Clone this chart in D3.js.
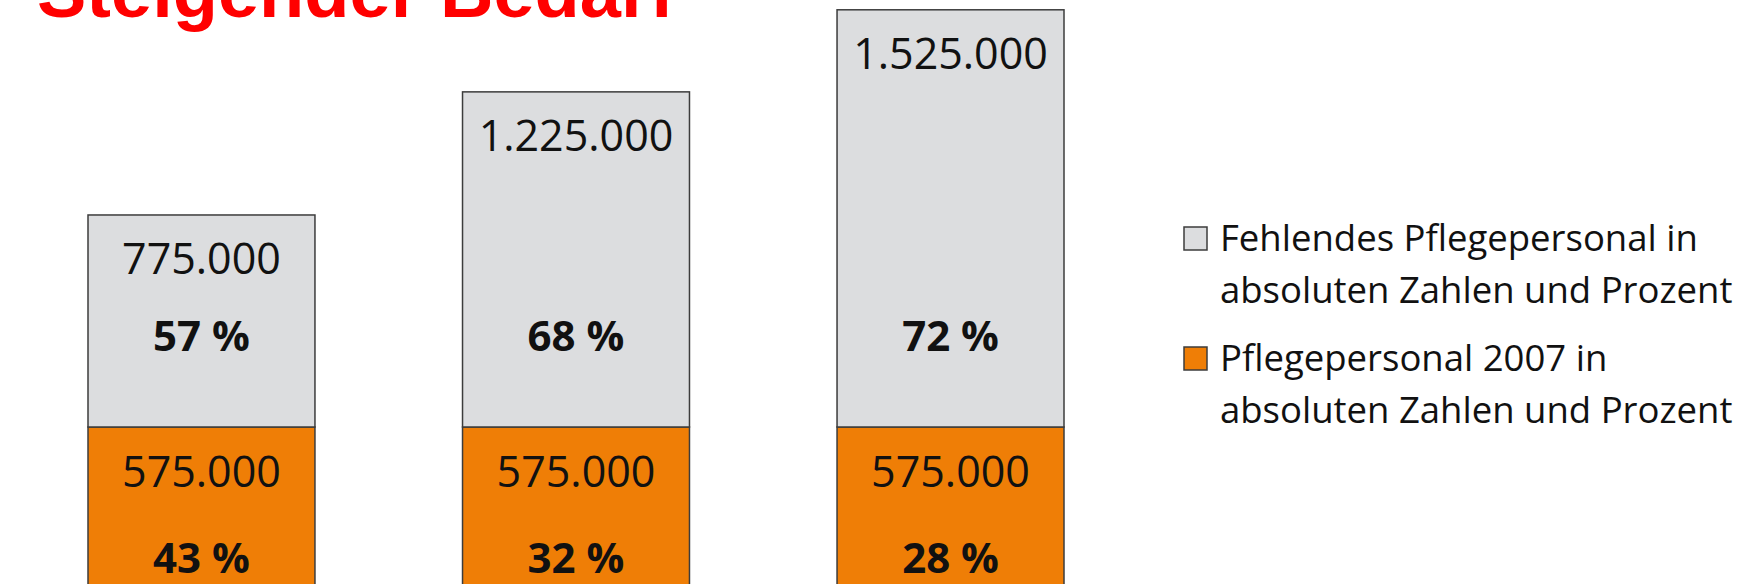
<!DOCTYPE html>
<html>
<head>
<meta charset="utf-8">
<script src="https://cdn.jsdelivr.net/npm/d3@7"></script>
<style>
  html, body { margin: 0; padding: 0; background: #ffffff; overflow: hidden; }
  svg { display: block; }
</style>
</head>
<body>
<svg id="chart" width="1748" height="584"></svg>
<script>
// ---- data ----
const categories = ["Bedarf A", "Bedarf B", "Bedarf C"];
const staff2007 = [575000, 575000, 575000];          // Pflegepersonal 2007
const missingStaff = [775000, 1225000, 1525000];     // Fehlendes Pflegepersonal
const staffPct = [43, 32, 28];
const missingPct = [57, 68, 72];
const seriesNames = [
  ["Fehlendes Pflegepersonal in", "absoluten Zahlen und Prozent"],
  ["Pflegepersonal 2007 in", "absoluten Zahlen und Prozent"]
];
const titleText = "Steigender Bedarf";

// ---- setup ----
const W = 1748, H = 584;
const svg = d3.select("#chart");
const de = d3.formatLocale({ decimal: ",", thousands: ".", grouping: [3], currency: ["", " €"] });
const fmt = de.format(",d");

const colGray = "#dcdddf";
const colOrange = "#ef7e06";
const colBorder = "#3c3c3c";
const labelFont = "'Open Sans', sans-serif";

const x = d3.scaleBand().domain(categories).range([88, 1064]).paddingInner(0.394).paddingOuter(0);
const y = d3.scaleLinear().domain([0, 2100000]).range([584.3, 9.8]);

const rows = categories.map((c, i) => ({
  cat: c, staff: staff2007[i], missing: missingStaff[i], sp: staffPct[i], mp: missingPct[i]
}));

// ---- bars ----
const g = svg.append("g");
g.selectAll("rect.staff").data(rows).join("rect")
  .attr("class", "staff")
  .attr("x", d => x(d.cat))
  .attr("width", x.bandwidth())
  .attr("y", d => y(d.staff))
  .attr("height", d => y(0) - y(d.staff) + 4)
  .attr("fill", colOrange)
  .attr("stroke", colBorder)
  .attr("stroke-width", 1.5);
g.selectAll("rect.missing").data(rows).join("rect")
  .attr("class", "missing")
  .attr("x", d => x(d.cat))
  .attr("width", x.bandwidth())
  .attr("y", d => y(d.staff + d.missing))
  .attr("height", d => y(d.staff) - y(d.staff + d.missing))
  .attr("fill", colGray)
  .attr("stroke", colBorder)
  .attr("stroke-width", 1.5);

// ---- labels ----
const cx = d => x(d.cat) + x.bandwidth() / 2;
g.selectAll("text.mval").data(rows).join("text")
  .attr("x", cx).attr("y", d => y(d.staff + d.missing) + 59)
  .attr("text-anchor", "middle").attr("font-family", labelFont)
  .attr("font-size", 43).attr("fill", "#111")
  .text(d => fmt(d.missing));
g.selectAll("text.mpct").data(rows).join("text")
  .attr("x", cx).attr("y", d => y(d.staff) - 76)
  .attr("text-anchor", "middle").attr("font-family", labelFont)
  .attr("font-size", 42).attr("font-weight", "bold").attr("fill", "#111")
  .text(d => d.mp + " %");
g.selectAll("text.sval").data(rows).join("text")
  .attr("x", cx).attr("y", d => y(d.staff) + 60)
  .attr("text-anchor", "middle").attr("font-family", labelFont)
  .attr("font-size", 43).attr("fill", "#111")
  .text(d => fmt(d.staff));
g.selectAll("text.spct").data(rows).join("text")
  .attr("x", cx).attr("y", d => y(d.staff) + 146)
  .attr("text-anchor", "middle").attr("font-family", labelFont)
  .attr("font-size", 42).attr("font-weight", "bold").attr("fill", "#111")
  .text(d => d.sp + " %");

// ---- title ----
svg.append("text")
  .attr("x", 37).attr("y", 17)
  .attr("font-family", "'Liberation Sans', Arial, sans-serif")
  .attr("font-weight", "bold").attr("font-size", 74)
  .attr("fill", "#ff0000")
  .text(titleText);

// ---- legend ----
const legendColors = [colGray, colOrange];
const legendTops = [227, 347];
const leg = svg.append("g");
seriesNames.forEach((lines, i) => {
  leg.append("rect")
    .attr("x", 1184).attr("y", legendTops[i])
    .attr("width", 23).attr("height", 23)
    .attr("fill", legendColors[i])
    .attr("stroke", colBorder).attr("stroke-width", 1.5);
  lines.forEach((t, j) => {
    leg.append("text")
      .attr("x", 1220).attr("y", legendTops[i] + 24 + j * 52)
      .attr("font-family", labelFont).attr("font-size", 36.5)
      .attr("fill", "#111")
      .text(t);
  });
});
</script>
</body>
</html>
